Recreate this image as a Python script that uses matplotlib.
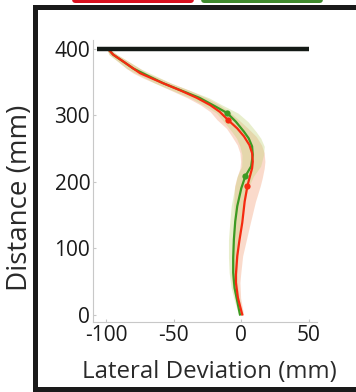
import matplotlib
matplotlib.use("Agg")
import matplotlib.pyplot as plt
from matplotlib.patches import Rectangle, FancyBboxPatch
import numpy as np

plt.rcParams['font.family'] = ['Open Sans', 'DejaVu Sans']
plt.rcParams['axes.unicode_minus'] = False

# Red condition: mean lateral deviation (mm) vs distance (mm)
red_y = [400, 391, 380, 370, 363, 355, 348, 337, 326, 315, 305, 293, 280, 268, 255, 243,
         230, 220, 205, 193, 170, 138, 110, 88, 60, 48, 25, 0]
red_x = [-99, -95, -87, -80, -75, -66, -58, -45, -33, -23, -16, -10, -3, 2, 6, 8,
         8.5, 8, 6, 4.5, 2.5, 0.7, -1.5, -3, -4, -4, -2.5, 0.7]
red_sd = [1, 3, 4, 5, 5, 6, 6, 7, 7, 7, 7, 8, 8, 9, 9, 9,
          9, 9, 9.5, 9.5, 8, 6, 5, 4, 3.5, 3, 2, 1]

# Green condition
green_y = [400, 391, 370, 348, 326, 315, 303, 290, 275, 265, 253, 240, 223, 208, 190,
           163, 140, 113, 85, 63, 40, 20, 0]
green_x = [-99, -95, -80, -58, -31, -21, -10.4, -4, 2, 5.5, 8, 8.5, 7.3, 3, 0,
           -3, -4.5, -5.5, -6, -6, -5, -3, -1]
green_sd = [1, 3, 5, 6, 7, 7, 8, 9, 9, 9, 9, 8, 7, 6, 5,
            4.5, 4, 4, 3.5, 3, 2.5, 2, 1]

# Markers on each curve
red_mark_x = [-10, 4.5]
red_mark_y = [293, 193]
green_mark_x = [-10.4, 3]
green_mark_y = [303, 208]

# Target line
target_y = 400
target_x = [-107, 50]

xticks = [-100, -50, 0, 50]
yticks = [0, 100, 200, 300, 400]

W, H = 356, 392
fig = plt.figure(figsize=(W / 100, H / 100), dpi=100)
ax = fig.add_axes([0.261, 0.179, 0.629, 0.719])

red_c = '#f52a10'
green_c = '#3c9a22'

ax.fill_betweenx(red_y, np.array(red_x) - np.array(red_sd), np.array(red_x) + np.array(red_sd),
                 color='#f3a078', alpha=0.38, lw=0)
ax.fill_betweenx(green_y, np.array(green_x) - np.array(green_sd), np.array(green_x) + np.array(green_sd),
                 color='#c4d47a', alpha=0.38, lw=0)
ax.plot(green_x, green_y, color=green_c, lw=1.6)
ax.plot(red_x, red_y, color=red_c, lw=1.6)
ax.plot(green_mark_x, green_mark_y, 'o', color=green_c, ms=4.5, mec='none')
ax.plot(red_mark_x, red_mark_y, 'o', color=red_c, ms=4.5, mec='none')

ax.plot(target_x, [target_y, target_y], color='#141a16', lw=3.2, solid_capstyle='butt')

ax.set_xlim(-110, 56)
ax.set_ylim(-11, 413)
ax.set_xticks(xticks)
ax.set_yticks(yticks)
for s in ['top', 'right']:
    ax.spines[s].set_visible(False)
for s in ['left', 'bottom']:
    ax.spines[s].set_color('#c8c8c8')
    ax.spines[s].set_linewidth(0.8)
ax.tick_params(direction='in', length=2, width=0.8, color='#c8c8c8',
               labelsize=15, labelcolor='#1a1a1a', pad=2)

def fx(px): return px / W
def fy(py): return 1 - py / H

fig.text(fx(209), fy(372), 'Lateral Deviation (mm)', fontsize=17.3, color='#2a2a2a',
         ha='center', va='center')
fig.text(fx(20), fy(198), 'Distance (mm)', fontsize=20, color='#2a2a2a',
         ha='center', va='center', rotation=90)

# Outer frame (screenshot border)
frame_c = '#1a1a1a'
fig.add_artist(Rectangle((fx(33), fy(10)), fx(356 - 33), 5 / H, transform=fig.transFigure,
                         color=frame_c, lw=0))
fig.add_artist(Rectangle((fx(33), fy(392)), 5 / W, fy(10) - fy(392), transform=fig.transFigure,
                         color=frame_c, lw=0))
fig.add_artist(Rectangle((fx(33), fy(392)), fx(356 - 33), 5 / H, transform=fig.transFigure,
                         color=frame_c, lw=0))
# Partial colored tabs at top edge
fig.add_artist(FancyBboxPatch((fx(72), fy(3)), fx(122), 6 / H, boxstyle='round,pad=0,rounding_size=0.01',
                              transform=fig.transFigure, color='#d8101e', lw=0))
fig.add_artist(FancyBboxPatch((fx(201), fy(3)), fx(122), 6 / H, boxstyle='round,pad=0,rounding_size=0.01',
                              transform=fig.transFigure, color='#3f8a2e', lw=0))

fig.savefig('out.png', dpi=100)
